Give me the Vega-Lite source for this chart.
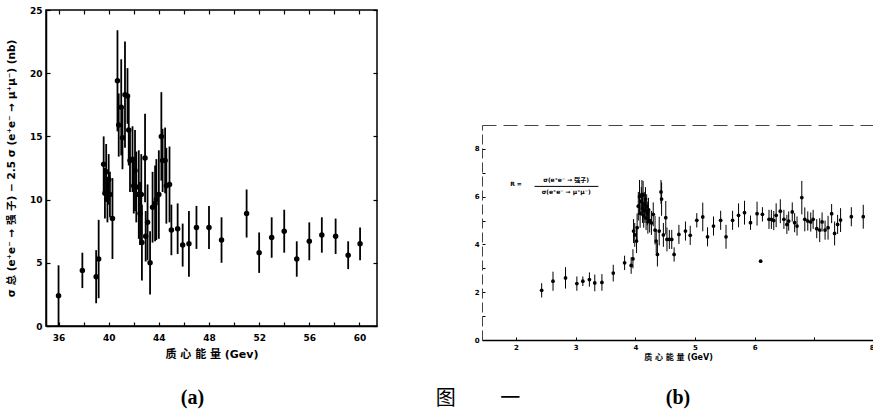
{
  "$schema": "https://vega.github.io/schema/vega-lite/v6.json",
  "background": "white",
  "padding": 5,
  "config": {
    "view": {"stroke": null},
    "axis": {"domainColor": "black", "tickColor": "black", "labelColor": "black", "titleColor": "black", "grid": false, "labelFont": "DejaVu Sans", "labelFontWeight": "bold", "titleFont": "DejaVu Sans, Noto Sans CJK SC", "titleFontWeight": "bold"},
    "title": {"color": "black"}
  },
  "datasets": {
    "a": [
      {"E": 36.0, "v": 2.4, "err": 2.4}, {"E": 37.9, "v": 4.4, "err": 1.4}, {"E": 39.0, "v": 3.9, "err": 2.1}, {"E": 39.2, "v": 5.3, "err": 3.1},
      {"E": 39.6, "v": 12.8, "err": 2.2}, {"E": 39.7, "v": 10.5, "err": 2.0}, {"E": 39.8, "v": 12.2, "err": 2.2}, {"E": 39.9, "v": 10.0, "err": 1.8},
      {"E": 40.0, "v": 11.6, "err": 2.0}, {"E": 40.1, "v": 10.4, "err": 1.8}, {"E": 40.3, "v": 8.5, "err": 3.2},
      {"E": 40.7, "v": 19.4, "err": 4.0}, {"E": 40.8, "v": 15.9, "err": 2.5}, {"E": 41.0, "v": 17.3, "err": 3.8}, {"E": 41.1, "v": 14.9, "err": 2.5},
      {"E": 41.3, "v": 18.3, "err": 4.2}, {"E": 41.5, "v": 18.2, "err": 2.2}, {"E": 41.6, "v": 15.5, "err": 2.8}, {"E": 41.7, "v": 13.1, "err": 2.5},
      {"E": 41.9, "v": 13.2, "err": 2.6}, {"E": 42.0, "v": 11.1, "err": 2.2}, {"E": 42.1, "v": 12.3, "err": 3.2}, {"E": 42.2, "v": 11.0, "err": 2.8},
      {"E": 42.4, "v": 10.4, "err": 3.5}, {"E": 42.5, "v": 8.9, "err": 2.5}, {"E": 42.6, "v": 10.4, "err": 3.2}, {"E": 42.65, "v": 6.6, "err": 3.0},
      {"E": 42.9, "v": 13.3, "err": 3.5}, {"E": 42.95, "v": 7.1, "err": 2.0}, {"E": 43.1, "v": 8.2, "err": 3.0}, {"E": 43.3, "v": 5.0, "err": 2.5},
      {"E": 43.5, "v": 9.4, "err": 2.8}, {"E": 43.7, "v": 9.7, "err": 3.0}, {"E": 43.8, "v": 10.0, "err": 3.2}, {"E": 44.0, "v": 10.4, "err": 3.5},
      {"E": 44.2, "v": 15.0, "err": 3.5}, {"E": 44.3, "v": 13.1, "err": 2.5}, {"E": 44.5, "v": 13.1, "err": 2.6}, {"E": 44.6, "v": 11.1, "err": 3.0},
      {"E": 44.85, "v": 11.2, "err": 3.0}, {"E": 45.0, "v": 7.6, "err": 2.0}, {"E": 45.5, "v": 7.7, "err": 2.0}, {"E": 45.9, "v": 6.4, "err": 1.7},
      {"E": 46.4, "v": 6.5, "err": 2.6}, {"E": 47.0, "v": 7.8, "err": 1.7}, {"E": 48.0, "v": 7.8, "err": 1.7}, {"E": 49.0, "v": 6.8, "err": 1.8},
      {"E": 51.0, "v": 8.9, "err": 1.9}, {"E": 52.0, "v": 5.8, "err": 1.6}, {"E": 53.0, "v": 7.0, "err": 1.6}, {"E": 54.0, "v": 7.5, "err": 1.7},
      {"E": 55.0, "v": 5.3, "err": 1.4}, {"E": 56.0, "v": 6.7, "err": 1.5}, {"E": 57.0, "v": 7.2, "err": 1.4}, {"E": 58.1, "v": 7.1, "err": 1.4},
      {"E": 59.1, "v": 5.6, "err": 1.1}, {"E": 60.05, "v": 6.5, "err": 1.3}
    ],
    "b": [
      {"E": 2.43, "R": 2.08, "err": 0.3}, {"E": 2.62, "R": 2.46, "err": 0.4}, {"E": 2.83, "R": 2.6, "err": 0.45}, {"E": 3.02, "R": 2.36, "err": 0.3},
      {"E": 3.12, "R": 2.46, "err": 0.2}, {"E": 3.23, "R": 2.53, "err": 0.3}, {"E": 3.32, "R": 2.39, "err": 0.35}, {"E": 3.44, "R": 2.41, "err": 0.35},
      {"E": 3.63, "R": 2.8, "err": 0.35}, {"E": 3.82, "R": 3.23, "err": 0.3}, {"E": 3.93, "R": 3.12, "err": 0.35}, {"E": 3.96, "R": 3.4, "err": 0.4},
      {"E": 3.97, "R": 4.56, "err": 0.5}, {"E": 3.99, "R": 4.4, "err": 0.5}, {"E": 4.02, "R": 4.14, "err": 0.5}, {"E": 4.03, "R": 4.7, "err": 0.6},
      {"E": 4.05, "R": 5.6, "err": 0.6}, {"E": 4.07, "R": 6.0, "err": 0.7}, {"E": 4.08, "R": 5.3, "err": 0.6}, {"E": 4.1, "R": 5.8, "err": 0.6},
      {"E": 4.11, "R": 6.1, "err": 0.6}, {"E": 4.12, "R": 5.5, "err": 0.6}, {"E": 4.13, "R": 6.06, "err": 0.6}, {"E": 4.14, "R": 5.2, "err": 0.5},
      {"E": 4.15, "R": 5.7, "err": 0.5}, {"E": 4.16, "R": 5.4, "err": 0.5}, {"E": 4.17, "R": 5.9, "err": 0.5}, {"E": 4.18, "R": 5.1, "err": 0.5},
      {"E": 4.19, "R": 5.6, "err": 0.5}, {"E": 4.2, "R": 5.3, "err": 0.5}, {"E": 4.21, "R": 4.95, "err": 0.5}, {"E": 4.22, "R": 5.45, "err": 0.5},
      {"E": 4.24, "R": 5.0, "err": 0.5}, {"E": 4.27, "R": 4.9, "err": 0.5}, {"E": 4.3, "R": 5.26, "err": 0.5}, {"E": 4.33, "R": 4.6, "err": 0.6},
      {"E": 4.35, "R": 4.14, "err": 0.5}, {"E": 4.37, "R": 3.58, "err": 0.5}, {"E": 4.4, "R": 4.56, "err": 0.6}, {"E": 4.43, "R": 6.2, "err": 0.5},
      {"E": 4.44, "R": 5.9, "err": 0.7}, {"E": 4.47, "R": 4.4, "err": 0.5}, {"E": 4.51, "R": 5.12, "err": 0.7}, {"E": 4.53, "R": 4.21, "err": 0.5},
      {"E": 4.57, "R": 4.21, "err": 0.4}, {"E": 4.61, "R": 4.21, "err": 0.4}, {"E": 4.65, "R": 3.58, "err": 0.3}, {"E": 4.73, "R": 4.42, "err": 0.4},
      {"E": 4.84, "R": 4.56, "err": 0.4}, {"E": 4.92, "R": 4.38, "err": 0.4}, {"E": 5.03, "R": 5.01, "err": 0.3}, {"E": 5.13, "R": 5.15, "err": 0.6},
      {"E": 5.21, "R": 4.32, "err": 0.4}, {"E": 5.31, "R": 4.77, "err": 0.4}, {"E": 5.43, "R": 5.01, "err": 0.4}, {"E": 5.52, "R": 4.32, "err": 0.5},
      {"E": 5.63, "R": 5.01, "err": 0.4}, {"E": 5.73, "R": 5.22, "err": 0.5}, {"E": 5.83, "R": 5.33, "err": 0.5}, {"E": 5.93, "R": 4.91, "err": 0.3},
      {"E": 6.04, "R": 5.29, "err": 0.5}, {"E": 6.1, "R": 3.3, "err": 0.0}, {"E": 6.13, "R": 5.26, "err": 0.3}, {"E": 6.24, "R": 5.05, "err": 0.4},
      {"E": 6.28, "R": 5.05, "err": 0.4}, {"E": 6.32, "R": 5.0, "err": 0.4}, {"E": 6.36, "R": 5.22, "err": 0.5}, {"E": 6.43, "R": 5.39, "err": 0.5},
      {"E": 6.49, "R": 5.05, "err": 0.4}, {"E": 6.54, "R": 4.84, "err": 0.4}, {"E": 6.57, "R": 4.98, "err": 0.4}, {"E": 6.63, "R": 5.36, "err": 0.4},
      {"E": 6.67, "R": 4.91, "err": 0.4}, {"E": 6.71, "R": 4.77, "err": 0.4}, {"E": 6.79, "R": 5.96, "err": 0.7}, {"E": 6.84, "R": 5.05, "err": 0.5},
      {"E": 6.89, "R": 4.98, "err": 0.4}, {"E": 6.94, "R": 4.94, "err": 0.4}, {"E": 6.98, "R": 5.05, "err": 0.4}, {"E": 7.04, "R": 4.66, "err": 0.4},
      {"E": 7.09, "R": 4.6, "err": 0.5}, {"E": 7.13, "R": 4.94, "err": 0.4}, {"E": 7.18, "R": 4.6, "err": 0.4}, {"E": 7.23, "R": 4.7, "err": 0.5},
      {"E": 7.29, "R": 5.29, "err": 0.4}, {"E": 7.34, "R": 4.46, "err": 0.5}, {"E": 7.39, "R": 4.84, "err": 0.4}, {"E": 7.44, "R": 5.02, "err": 0.5},
      {"E": 7.62, "R": 5.16, "err": 0.4}, {"E": 7.82, "R": 5.16, "err": 0.5}
    ],
    "formula": [
      {"E": 2.0, "R": 6.55, "t": "R ="},
      {"E": 2.84, "R": 6.68, "t": "σ(e⁺e⁻ → 强子)"},
      {"E": 2.84, "R": 6.18, "t": "σ(e⁺e⁻ → μ⁺μ⁻)"}
    ],
    "fracline": [{"E": 2.31, "E2": 3.38, "R": 6.43}]
  },
  "title": {"text": "图\u3000\u3000   一", "orient": "bottom", "anchor": "start", "font": "Noto Sans CJK SC", "fontSize": 20, "fontWeight": "normal", "offset": -20, "dx": 430},
  "spacing": 95,
  "hconcat": [
    {
      "width": 331,
      "height": 316,
      "data": {"name": "a"},
      "view": {"stroke": "black", "strokeWidth": 1.5},
      "title": {"text": "(a)", "orient": "bottom", "font": "Liberation Serif", "fontSize": 20, "fontWeight": "bold", "dx": -19, "offset": 29},
      "layer": [
        {
          "mark": {"type": "errorbar", "color": "black", "thickness": 1.8},
          "encoding": {
            "x": {"field": "E", "type": "quantitative", "scale": {"domain": [35, 61.4], "nice": false, "zero": false},
                  "axis": {"orient": "bottom", "values": [36, 38, 40, 42, 44, 46, 48, 50, 52, 54, 56, 58, 60], "labelExpr": "datum.value % 4 == 0 ? datum.label : ''", "tickSize": -4, "tickWidth": 1.2, "labelPadding": 11, "labelFontSize": 9, "domainWidth": 1.5, "title": "质 心 能 量 (Gev)", "titleFontSize": 11, "titlePadding": 6}},
            "y": {"field": "v", "type": "quantitative", "scale": {"domain": [0, 25], "nice": false},
                  "axis": {"values": [0, 5, 10, 15, 20, 25], "tickSize": -4, "tickWidth": 1.2, "labelPadding": 8, "labelFontSize": 9, "domainWidth": 1.5, "title": "σ 总 (e⁺e⁻ → 强 子) − 2.5 σ (e⁺e⁻ → μ⁺μ⁻)   (nb)", "titleFontSize": 10.5, "titlePadding": 13}},
            "yError": {"field": "err"}
          }
        },
        {
          "mark": {"type": "point", "filled": true, "color": "black", "opacity": 1, "size": 30},
          "encoding": {
            "x": {"field": "E", "type": "quantitative", "axis": {"orient": "top", "values": [36, 38, 40, 42, 44, 46, 48, 50, 52, 54, 56, 58, 60], "labels": false, "tickSize": -4, "tickWidth": 1.2, "domain": false, "title": null}},
            "y": {"field": "v", "type": "quantitative", "axis": {"orient": "right", "values": [0, 5, 10, 15, 20, 25], "labels": false, "tickSize": -4, "tickWidth": 1.2, "domain": false, "title": null}}
          }
        }
      ],
      "resolve": {"axis": {"x": "independent", "y": "independent"}}
    },
    {
      "spacing": 0,
      "vconcat": [
        {
          "width": 392,
          "height": 115,
          "data": {"values": [{"t": ""}]},
          "mark": {"type": "text"},
          "encoding": {"text": {"field": "t"}}
        },
        {
          "width": 392,
          "height": 215,
          "data": {"name": "b"},
          "title": {"text": "(b)", "orient": "bottom", "font": "Liberation Serif", "fontSize": 20, "fontWeight": "bold", "offset": 27},
          "layer": [
            {
              "mark": {"type": "errorbar", "color": "black", "thickness": 1},
              "encoding": {
                "x": {"field": "E", "type": "quantitative", "scale": {"domain": [1.43, 8], "nice": false, "zero": false},
                      "axis": {"values": [2, 3, 4, 5, 6, 7, 8], "labelExpr": "datum.value == 7 ? '' : datum.label", "tickSize": -3, "labelPadding": 6, "labelFontSize": 7, "domainWidth": 1.5, "title": "质 心 能 量 (GeV)", "titleFontSize": 8, "titlePadding": 3}},
                "y": {"field": "R", "type": "quantitative", "scale": {"domain": [0, 9], "nice": false},
                      "axis": {"values": [0, 1, 2, 3, 4, 5, 6, 7, 8], "labelExpr": "datum.value % 2 == 0 ? datum.label : ''", "tickSize": -3, "labelPadding": 6, "labelFontSize": 7, "domainDash": [10, 4], "domainColor": "#444", "title": null}},
                "yError": {"field": "err"}
              }
            },
            {
              "mark": {"type": "point", "filled": true, "color": "black", "opacity": 1, "size": 14},
              "encoding": {
                "x": {"field": "E", "type": "quantitative", "axis": {"orient": "top", "labels": false, "ticks": false, "domainDash": [14, 7], "domainColor": "#444", "title": null}},
                "y": {"field": "R", "type": "quantitative", "axis": null}
              }
            },
            {
              "data": {"name": "formula"},
              "mark": {"type": "text", "font": "DejaVu Sans, Noto Sans CJK SC", "fontSize": 6, "fontWeight": "bold", "color": "black"},
              "encoding": {
                "x": {"field": "E", "type": "quantitative", "axis": null},
                "y": {"field": "R", "type": "quantitative", "axis": null},
                "text": {"field": "t"}
              }
            },
            {
              "data": {"name": "fracline"},
              "mark": {"type": "rule", "color": "black", "strokeWidth": 1},
              "encoding": {
                "x": {"field": "E", "type": "quantitative", "axis": null},
                "x2": {"field": "E2"},
                "y": {"field": "R", "type": "quantitative", "axis": null}
              }
            }
          ],
          "resolve": {"axis": {"x": "independent", "y": "independent"}}
        }
      ]
    }
  ]
}
